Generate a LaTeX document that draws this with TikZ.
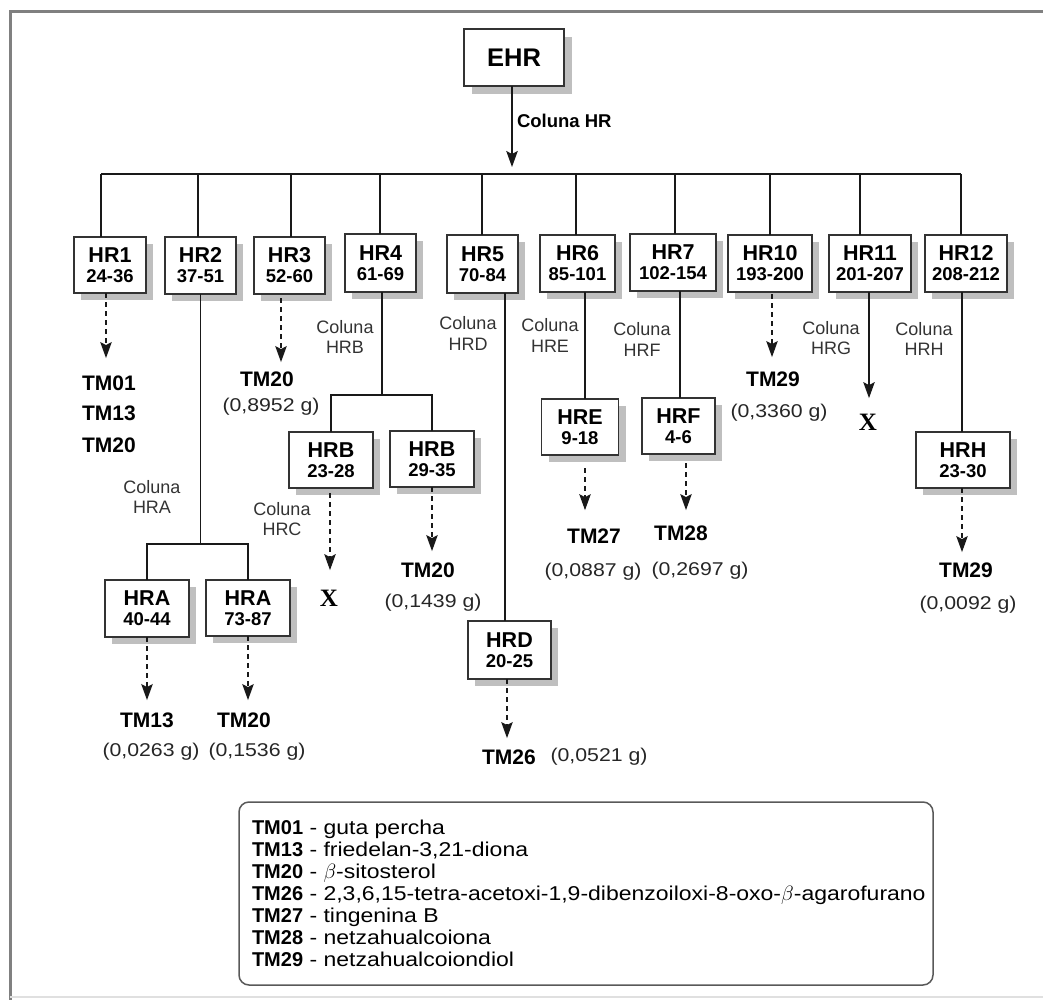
\documentclass[tikz,border=0pt]{standalone}
\usepackage{fontspec}
\setmainfont{Liberation Sans}
\newfontfamily\widef[FakeStretch=1.15]{Liberation Sans}
\newfontfamily\serifX{Liberation Serif}
\usetikzlibrary{arrows.meta}
\newcommand{\legline}[2]{\textbf{#1}{\widef{} - #2}}
\newcommand{\rng}[1]{{\fontsize{18.5}{20}\selectfont #1}}
% box with shadow: name, x, y, width, height, text
\newcommand{\hrbox}[6]{%
  \fill[shadowfill] ({#2+7-#4/2},{#3+7-#5/2}) rectangle ({#2+7+#4/2},{#3+7+#5/2});
  \node[hbox, minimum width=#4pt, minimum height=#5pt] (#1) at (#2,#3) {#6};}
\tikzset{
  every node/.style={inner sep=0pt, outer sep=0pt},
  hbox/.style={draw=black!80, line width=1.3pt, fill=white, align=center,
    font=\fontsize{21.5}{20}\selectfont\bfseries},
  shadowfill/.style={fill=black!25},
  conn/.style={draw=black!90, line width=1.2pt},
  arr/.style={conn, -{Stealth[length=16pt,width=11.5pt,inset=3pt]}},
  darr/.style={arr, dash pattern=on 5pt off 4pt},
  tm/.style={font=\fontsize{21}{21}\selectfont\bfseries},
  amt/.style={font=\fontsize{18.5}{20}\widef, text=black!85},
  col/.style={font=\fontsize{18}{20.5}\selectfont, align=center, text=black!80},
  xmark/.style={font=\fontsize{25}{25}\serifX\bfseries},
}
\begin{document}
\begin{tikzpicture}[x=1pt,y=-1pt]
\useasboundingbox (0,0) rectangle (1043,1000);
% outer frame
\draw[black!50, line width=3pt] (10,1010) -- (10,12) -- (1060,12);
\draw[black!12, line width=1.5pt] (10,997) -- (1060,997);

% top
\fill[shadowfill] (472,37) rectangle (572,94);
\node[hbox, minimum width=100pt, minimum height=57pt, font=\fontsize{25.5}{26}\selectfont\bfseries] (ehr) at (514,57.5) {EHR};
\coordinate (busc) at (512,174);
\draw[arr, shorten >=7pt] (ehr.south -| busc) -- (busc);
\node[font=\fontsize{18.5}{20}\selectfont\bfseries, anchor=west] (colhr) at (517,121) {Coluna HR};

% bus and drops
\coordinate (d1) at (101,174);
\coordinate (d2) at (198,174);
\coordinate (d3) at (291,174);
\coordinate (d4) at (380,174);
\coordinate (d5) at (482,174);
\coordinate (d6) at (576,174);
\coordinate (d7) at (675,174);
\coordinate (d8) at (770,174);
\coordinate (d9) at (860,174);
\coordinate (d10) at (961,174);
\draw[conn] (d1) -- (d10);

% first level boxes
\hrbox{hr1}{110}{265}{72}{56}{HR1\\\rng{24-36}}
\hrbox{hr2}{200.5}{265.5}{71}{57}{HR2\\\rng{37-51}}
\hrbox{hr3}{289.5}{265.5}{71}{57}{HR3\\\rng{52-60}}
\hrbox{hr4}{380.5}{263}{71}{58}{HR4\\\rng{61-69}}
\hrbox{hr5}{482.5}{264}{71}{58}{HR5\\\rng{70-84}}
\hrbox{hr6}{577.5}{263.5}{75}{57}{HR6\\\rng{85-101}}
\hrbox{hr7}{673}{262.5}{86}{57}{HR7\\\rng{102-154}}
\hrbox{hr10}{770}{263.5}{84}{57}{HR10\\\rng{193-200}}
\hrbox{hr11}{870}{263.5}{82}{57}{HR11\\\rng{201-207}}
\hrbox{hr12}{966}{263.5}{82}{57}{HR12\\\rng{208-212}}

\foreach \i/\n in {1/hr1,2/hr2,3/hr3,4/hr4,5/hr5,6/hr6,7/hr7,8/hr10,9/hr11,10/hr12}
  \draw[conn] (d\i) -- (d\i |- \n.north);

% second level boxes
\hrbox{hrb1}{331}{460}{84}{56}{HRB\\\rng{23-28}}
\hrbox{hrb2}{432}{459}{84}{56}{HRB\\\rng{29-35}}
\hrbox{hra1}{147}{608.5}{84}{57}{HRA\\\rng{40-44}}
\hrbox{hra2}{248}{608}{84}{56}{HRA\\\rng{73-87}}
\hrbox{hrd}{509.5}{650}{83}{58}{HRD\\\rng{20-25}}
\hrbox{hre}{580}{427}{77}{56}{HRE\\\rng{9-18}}
\hrbox{hrf}{678.5}{426}{73}{56}{HRF\\\rng{4-6}}
\hrbox{hrh}{963}{460}{94}{56}{HRH\\\rng{23-30}}

% branch connectors
\coordinate (j2) at (200,544);
\draw[conn] (hr2.south) -- (hr2.south |- j2);
\draw[conn] (hra1.north) |- (j2) -| (hra2.north);
\coordinate (j4) at (382,395);
\draw[conn] (hr4.south -| j4) -- (j4);
\draw[conn] (hrb1.north) |- (j4) -| (hrb2.north);
\coordinate (x5) at (505,0);
\draw[conn] (hr5.south -| x5) -- (hrd.north -| x5);
\coordinate (x6) at (585,0);
\draw[conn] (hr6.south -| x6) -- (hre.north -| x6);
\coordinate (x7) at (680,0);
\draw[conn] (hr7.south -| x7) -- (hrf.north -| x7);
\coordinate (x12) at (962,0);
\draw[conn] (hr12.south -| x12) -- (hrh.north -| x12);

% column labels
\node[col] (colA) at (152,497) {Coluna\\HRA};
\node[col] (colB) at (345,337) {Coluna\\HRB};
\node[col] (colC) at (282,519) {Coluna\\HRC};
\node[col] (colD) at (468,333.5) {Coluna\\HRD};
\node[col] (colE) at (550,335.5) {Coluna\\HRE};
\node[col] (colF) at (642,339.5) {Coluna\\HRF};
\node[col] (colG) at (831,338) {Coluna\\HRG};
\node[col] (colH) at (924,339) {Coluna\\HRH};

% products
\node[tm] (tm01) at (109,383) {TM01};
\node[tm] (tm13a) at (109,413) {TM13};
\node[tm] (tm20a) at (109,445) {TM20};
\node[tm] (tm20b) at (267,379) {TM20};
\node[amt] (m20b) at (271,407) {(0,8952 g)};
\node[tm] (tm29a) at (773,379) {TM29};
\node[amt] (m29a) at (779,413) {(0,3360 g)};
\node[tm] (tm20c) at (428,570) {TM20};
\node[amt] (m20c) at (433,603) {(0,1439 g)};
\node[tm] (tm13b) at (147,720) {TM13};
\node[amt] (m13b) at (151,752) {(0,0263 g)};
\node[tm] (tm20d) at (244,720) {TM20};
\node[amt] (m20d) at (257,752) {(0,1536 g)};
\node[tm] (tm27) at (594,536) {TM27};
\node[amt] (m27) at (593,572) {(0,0887 g)};
\node[tm] (tm28) at (681,533) {TM28};
\node[amt] (m28) at (700,571) {(0,2697 g)};
\node[tm] (tm26) at (509,757) {TM26};
\node[amt] (m26) at (599,757) {(0,0521 g)};
\node[tm] (tm29b) at (966,570) {TM29};
\node[amt] (m29b) at (968,605) {(0,0092 g)};
\node[xmark] (xa) at (868,422) {X};
\node[xmark] (xb) at (329,598) {X};

% arrows
\coordinate (a1) at (106,0);
\draw[darr, shorten >=17.5pt] (hr1.south -| a1) -- (tm01.north -| a1);
\coordinate (a3) at (281,0);
\draw[darr, shorten <=4pt, shorten >=9.5pt] (hr3.south -| a3) -- (tm20b.north -| a3);
\coordinate (a10) at (772,0);
\draw[darr, shorten <=2pt, shorten >=14.5pt] (hr10.south -| a10) -- (tm29a.north -| a10);
\coordinate (a11) at (869,0);
\draw[arr, shorten >=15.7pt] (hr11.south -| a11) -- (xa.north -| a11);
\coordinate (ab1) at (330,0);
\draw[darr, shorten <=5pt, shorten >=19.7pt] (hrb1.south -| ab1) -- (xb.north -| ab1);
\coordinate (ab2) at (432,0);
\draw[darr, shorten >=11.5pt] (hrb2.south -| ab2) -- (tm20c.north -| ab2);
\coordinate (aa1) at (147,0);
\draw[darr, shorten >=12.5pt] (hra1.south -| aa1) -- (tm13b.north -| aa1);
\coordinate (aa2) at (248,0);
\draw[darr, shorten >=12.5pt] (hra2.south -| aa2) -- (tm20d.north -| aa2);
\coordinate (ae) at (585,0);
\draw[darr, shorten <=13pt, shorten >=18.5pt] (hre.south -| ae) -- (tm27.north -| ae);
\coordinate (af) at (686,0);
\draw[darr, shorten <=9pt, shorten >=15.5pt] (hrf.south -| af) -- (tm28.north -| af);
\coordinate (ad) at (507,0);
\draw[darr, shorten >=11.5pt] (hrd.south -| ad) -- (tm26.north -| ad);
\coordinate (ah) at (962,0);
\draw[darr, shorten >=10.5pt] (hrh.south -| ah) -- (tm29b.north -| ah);

% legend
\node[draw=black!65, line width=1.5pt, rounded corners=10pt, minimum width=694pt, minimum height=183pt] (legbox) at (586,893.5) {};
\node[anchor=north west, align=left, font=\fontsize{20}{22}\selectfont] (legtxt) at (252,820) {%
\legline{TM01}{guta percha}\\
\legline{TM13}{friedelan-3,21-diona}\\
\legline{TM20}{$\beta$-sitosterol}\\
\legline{TM26}{2,3,6,15-tetra-acetoxi-1,9-dibenzoiloxi-8-oxo-$\beta$-agarofurano}\\
\legline{TM27}{tingenina B}\\
\legline{TM28}{netzahualcoiona}\\
\legline{TM29}{netzahualcoiondiol}};
\end{tikzpicture}
\end{document}
